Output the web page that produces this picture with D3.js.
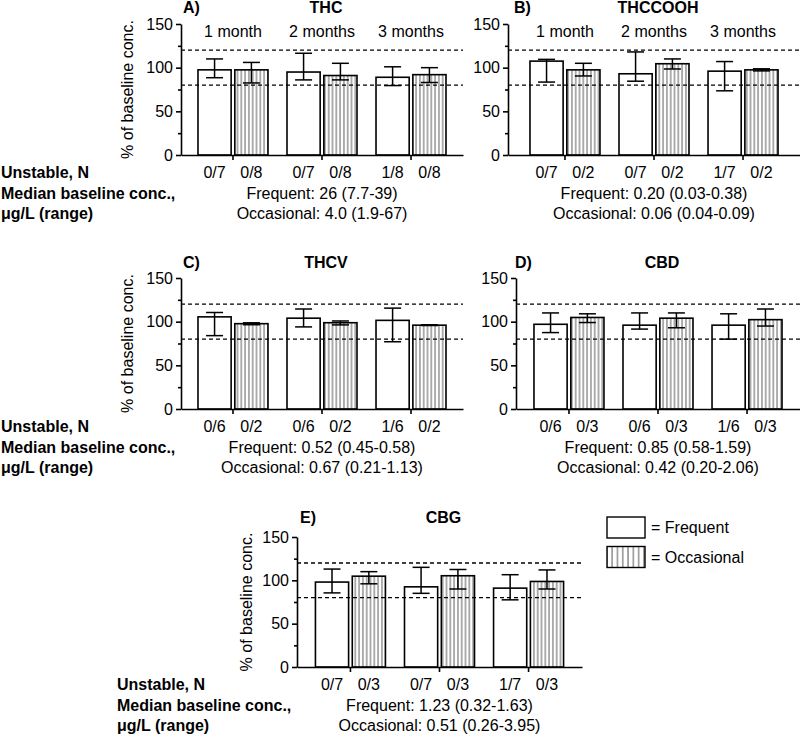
<!DOCTYPE html>
<html><head><meta charset="utf-8">
<script src="https://cdn.jsdelivr.net/npm/d3@7"></script>
<style>
body{margin:0;background:#fff}
svg{display:block;font-family:"Liberation Sans",Arial,Helvetica,sans-serif}
</style></head><body>
<svg id="chart" width="800" height="739"></svg>
<script>
// ---- data ----
const periods = ["1 month", "2 months", "3 months"];
const groupsSeries = ["Frequent", "Occasional"];
const yTicks = [0, 50, 100, 150];
const yMinorTicks = [25, 75, 125];
const refLines = [80, 120];
const rowLabels = ["Unstable, N", "Median baseline conc.,", "μg/L (range)"];

const thcFreq = [97.5, 95, 89];
const thcFreqErr = [[88.5, 110], [86, 116.5], [79.5, 101]];
const thcOcc = [97.5, 91, 92];
const thcOccErr = [[82.5, 106], [86, 105], [83, 100]];
const thcUnstable = ["0/7", "0/8", "0/7", "0/8", "1/8", "0/8"];
const thcMedian = ["Frequent: 26 (7.7-39)", "Occasional: 4.0 (1.9-67)"];

const thccoohFreq = [107.5, 93, 96];
const thccoohFreqErr = [[83.5, 109.5], [84.5, 118], [73.5, 107]];
const thccoohOcc = [97.5, 104.5, 97.5];
const thccoohOccErr = [[90.5, 105], [98.5, 110], [96.3, 98.7]];
const thccoohUnstable = ["0/7", "0/2", "0/7", "0/2", "1/7", "0/2"];
const thccoohMedian = ["Frequent: 0.20 (0.03-0.38)", "Occasional: 0.06 (0.04-0.09)"];

const thcvFreq = [105.5, 104, 101.5];
const thcvFreqErr = [[84, 110.5], [94, 114.5], [77, 115.5]];
const thcvOcc = [97.7, 98.8, 96];
const thcvOccErr = [[96.5, 98.7], [96.3, 100.8], [95.6, 96.4]];
const thcvUnstable = ["0/6", "0/2", "0/6", "0/2", "1/6", "0/2"];
const thcvMedian = ["Frequent: 0.52 (0.45-0.58)", "Occasional: 0.67 (0.21-1.13)"];

const cbdFreq = [97, 96, 96];
const cbdFreqErr = [[87.5, 110], [91.5, 110], [80, 109]];
const cbdOcc = [104.8, 104, 102.3];
const cbdOccErr = [[99, 109], [93, 110], [95, 114.5]];
const cbdUnstable = ["0/6", "0/3", "0/6", "0/3", "1/6", "0/3"];
const cbdMedian = ["Frequent: 0.85 (0.58-1.59)", "Occasional: 0.42 (0.20-2.06)"];

const cbgFreq = [98, 92.5, 91];
const cbgFreqErr = [[85.5, 113], [85, 115], [77.5, 106.5]];
const cbgOcc = [104.8, 105.3, 98.7];
const cbgOccErr = [[96, 110], [90, 112.5], [90, 112]];
const cbgUnstable = ["0/7", "0/3", "0/7", "0/3", "1/7", "0/3"];
const cbgMedian = ["Frequent: 1.23 (0.32-1.63)", "Occasional: 0.51 (0.26-3.95)"];

// ---- layout (positions only) ----
const panels = [
  {letter: "A)", title: "THC", freq: thcFreq, freqErr: thcFreqErr, occ: thcOcc, occErr: thcOccErr, unstable: thcUnstable, median: thcMedian,
   x0: 181, x1: 463, pad: 0.084, yTop: 24, y0: 155, letterX: 183, titleY: 13, yLabelX: 133, showPeriods: true, rowX: 1, rowGap: 20.5},
  {letter: "B)", title: "THCCOOH", freq: thccoohFreq, freqErr: thccoohFreqErr, occ: thccoohOcc, occErr: thccoohOccErr, unstable: thccoohUnstable, median: thccoohMedian,
   x0: 508, x1: 800, pad: 0.14, yTop: 24, y0: 155, letterX: 514, titleY: 13, yLabelX: null, showPeriods: true, rowX: null, rowGap: 20.5},
  {letter: "C)", title: "THCV", freq: thcvFreq, freqErr: thcvFreqErr, occ: thcvOcc, occErr: thcvOccErr, unstable: thcvUnstable, median: thcvMedian,
   x0: 181, x1: 463, pad: 0.084, yTop: 278, y0: 409, letterX: 183, titleY: 268, yLabelX: 133, showPeriods: false, rowX: 1, rowGap: 20.5},
  {letter: "D)", title: "CBD", freq: cbdFreq, freqErr: cbdFreqErr, occ: cbdOcc, occErr: cbdOccErr, unstable: cbdUnstable, median: cbdMedian,
   x0: 516, x1: 800, pad: 0.095, yTop: 278, y0: 409, letterX: 515, titleY: 268, yLabelX: null, showPeriods: false, rowX: null, rowGap: 20.5},
  {letter: "E)", title: "CBG", freq: cbgFreq, freqErr: cbgFreqErr, occ: cbgOcc, occErr: cbgOccErr, unstable: cbgUnstable, median: cbgMedian,
   x0: 297, x1: 582, pad: 0.10, yTop: 537, y0: 667, letterX: 300, titleY: 523, yLabelX: 252, showPeriods: false, rowX: 117, rowGap: 20.5}
];

const svg = d3.select("#chart");
const defs = svg.append("defs");
function hatch(id, step) {
  const p = defs.append("pattern").attr("id", id).attr("patternUnits", "userSpaceOnUse")
    .attr("width", step).attr("height", 10);
  p.append("rect").attr("width", step).attr("height", 10).attr("fill", "#fff");
  p.append("line").attr("x1", step / 2).attr("x2", step / 2).attr("y1", 0).attr("y2", 10)
    .attr("stroke", "#444").attr("stroke-width", 0.9);
}
hatch("hatchBar", 3.8);
hatch("hatchLegend", 5.3);

const FS = 16;

panels.forEach(P => {
  const g = svg.append("g");
  const x = d3.scaleBand().domain(periods).range([P.x0, P.x1]).paddingInner(0).paddingOuter(P.pad);
  const xi = d3.scaleBand().domain(groupsSeries).range([-35, 35]).paddingInner(0.1);
  const y = d3.scaleLinear().domain([0, 150]).range([P.y0, P.yTop]);
  const center = p => x(p) + x.bandwidth() / 2;

  const rows = [];
  periods.forEach((p, i) => {
    rows.push({p, s: "Frequent", v: P.freq[i], e: P.freqErr[i], u: P.unstable[i * 2]});
    rows.push({p, s: "Occasional", v: P.occ[i], e: P.occErr[i], u: P.unstable[i * 2 + 1]});
  });
  g.selectAll("rect.bar").data(rows).join("rect")
    .attr("x", d => center(d.p) + xi(d.s))
    .attr("y", d => y(d.v))
    .attr("width", xi.bandwidth())
    .attr("height", d => y(0) - y(d.v))
    .attr("fill", d => d.s === "Frequent" ? "#fff" : "url(#hatchBar)")
    .attr("stroke", "#000").attr("stroke-width", 1.6);

  const eb = g.selectAll("g.err").data(rows).join("g")
    .attr("transform", d => `translate(${center(d.p) + xi(d.s) + xi.bandwidth() / 2},0)`)
    .attr("stroke", "#000").attr("stroke-width", 1.5);
  eb.append("line").attr("y1", d => y(d.e[0])).attr("y2", d => y(d.e[1]));
  eb.append("line").attr("x1", -8.5).attr("x2", 8.5).attr("y1", d => y(d.e[0])).attr("y2", d => y(d.e[0]));
  eb.append("line").attr("x1", -8.5).attr("x2", 8.5).attr("y1", d => y(d.e[1])).attr("y2", d => y(d.e[1]));

  g.selectAll("line.ref").data(refLines).join("line")
    .attr("x1", P.x0).attr("x2", P.x1)
    .attr("y1", d => y(d)).attr("y2", d => y(d))
    .attr("stroke", "#000").attr("stroke-width", 1.3).attr("stroke-dasharray", "4,3");

  const xa = g.append("g").attr("transform", `translate(0,${P.y0})`)
    .call(d3.axisBottom(x).tickSize(5).tickSizeOuter(0).tickFormat(""));
  const ya = g.append("g").attr("transform", `translate(${P.x0},0)`)
    .call(d3.axisLeft(y).tickValues(yTicks).tickSize(5).tickSizeOuter(0).tickPadding(3));
  const ym = g.append("g").attr("transform", `translate(${P.x0},0)`)
    .call(d3.axisLeft(y).tickValues(yMinorTicks).tickSize(3).tickSizeOuter(0).tickFormat(""));
  [xa, ya, ym].forEach(a => {
    a.selectAll("path,line").attr("stroke", "#000").attr("stroke-width", 1.6);
    a.selectAll("text").attr("font-size", FS).attr("font-family", null).attr("fill", "#000");
  });
  ym.select("path").remove();

  if (P.yLabelX !== null) {
    g.append("text").attr("transform", `translate(${P.yLabelX},${(P.y0 + P.yTop) / 2}) rotate(-90)`)
      .attr("text-anchor", "middle").attr("font-size", FS).text("% of baseline conc.");
  }
  g.append("text").attr("x", P.letterX).attr("y", P.titleY).attr("font-size", FS).attr("font-weight", "bold").text(P.letter);
  g.append("text").attr("x", center(periods[1]) + 4).attr("y", P.titleY).attr("text-anchor", "middle")
    .attr("font-size", FS).attr("font-weight", "bold").text(P.title);
  if (P.showPeriods) {
    g.selectAll("text.per").data(periods).join("text")
      .attr("x", d => center(d)).attr("y", P.yTop + 13).attr("text-anchor", "middle").attr("font-size", FS).text(d => d);
  }
  g.selectAll("text.uns").data(rows).join("text")
    .attr("x", d => center(d.p) + xi(d.s) + xi.bandwidth() / 2)
    .attr("y", P.y0 + 23).attr("text-anchor", "middle").attr("font-size", FS).text(d => d.u);
  g.selectAll("text.med").data(P.median).join("text")
    .attr("x", center(periods[1])).attr("y", (d, i) => P.y0 + 23 + (i + 1) * P.rowGap)
    .attr("text-anchor", "middle").attr("font-size", FS).text(d => d);
  if (P.rowX !== null) {
    g.selectAll("text.row").data(rowLabels).join("text")
      .attr("x", P.rowX).attr("y", (d, i) => P.y0 + 23 + i * P.rowGap)
      .attr("font-size", FS).attr("font-weight", "bold").text(d => d);
  }
});

const legend = svg.append("g");
const legItems = [{s: "Frequent", fill: "#fff"}, {s: "Occasional", fill: "url(#hatchLegend)"}];
legend.selectAll("rect").data(legItems).join("rect")
  .attr("x", 607).attr("y", (d, i) => 517 + i * 29.5).attr("width", 38).attr("height", 21)
  .attr("fill", d => d.fill).attr("stroke", "#000").attr("stroke-width", 1.4);
legend.selectAll("text").data(legItems).join("text")
  .attr("x", 651).attr("y", (d, i) => 533 + i * 29.5).attr("font-size", FS).text(d => "= " + d.s);
</script>
</body></html>
